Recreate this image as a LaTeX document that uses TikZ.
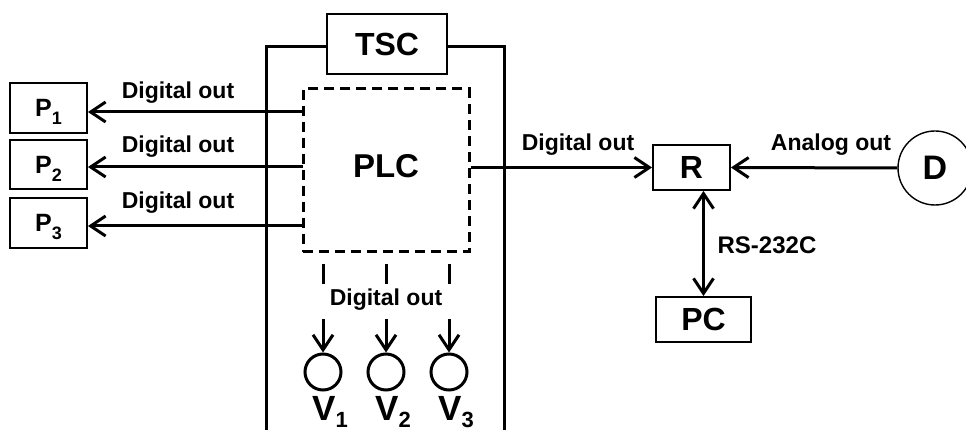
\documentclass[tikz,border=0pt]{standalone}
\usepackage{fontspec}
\setmainfont{Liberation Sans}
\usetikzlibrary{arrows.meta,calc}
\newcommand\psub[1]{\raisebox{-8pt}[0pt][0pt]{\fontsize{18}{18}\selectfont #1}}
\newcommand\vsub[1]{\raisebox{-7pt}[0pt][0pt]{\fontsize{22}{22}\selectfont #1}}
\begin{document}
\begin{tikzpicture}[x=1pt,y=-1pt,
  font=\bfseries,
  box/.style={draw, line width=1.8pt, inner sep=0pt, text depth=0pt},
  wire/.style={line width=3pt},
  tip/.style={},
  arr/.style={line width=3pt, -{Straight Barb[length=15pt,width=20pt]}},
  darr/.style={line width=3pt, {Straight Barb[length=15pt,width=20pt]}-{Straight Barb[length=15pt,width=20pt]}},
  lbl/.style={font=\fontsize{23}{23}\selectfont\bfseries, inner sep=0pt},
  big/.style={font=\fontsize{32}{32}\selectfont\bfseries},
  pbox/.style={box, minimum width=77pt, font=\fontsize{25}{25}\selectfont\bfseries},
  valve/.style={draw, circle, line width=3pt, minimum size=36pt, inner sep=0pt}]
\useasboundingbox (0,0) rectangle (966,430);
% TSC enclosure
\node[box, big, minimum width=120pt, minimum height=60pt] (TSC) at (387,44) {TSC};
\draw[wire] (266,432) |- ([yshift=-3pt]TSC.west);
\draw[wire] ([yshift=-3pt]TSC.east) -| (504,432);
% PLC
\node[draw, dash pattern=on 10pt off 6pt, line width=3pt, minimum width=166pt, minimum height=163pt] (PLC) at (386,170.5) {};
\node[font=\fontsize{33}{33}\selectfont\bfseries] (PLCt) at (386,166) {PLC};
% P boxes
\node[pbox, minimum height=50pt] (P1) at (48.5,108) {P\psub{1}};
\node[pbox, minimum height=49pt] (P2) at (48.5,164.5) {P\psub{2}};
\node[pbox, minimum height=50pt] (P3) at (48.5,223) {P\psub{3}};
\coordinate (a1) at (303,112);
\coordinate (a2) at (303,167);
\coordinate (a3) at (303,226);
\draw[arr] (a1) -- (P1.east |- a1);
\draw[arr] (a2) -- (P2.east |- a2);
\draw[arr] (a3) -- (P3.east |- a3);
\node[lbl] (l1) at (178,93) {Digital out};
\node[lbl] (l2) at (178,147) {Digital out};
\node[lbl] (l3) at (178,203) {Digital out};
% R, D, PC
\node[box, big, minimum width=77pt, minimum height=45pt] (R) at (691.5,167.5) {R};
\node[draw, circle, line width=1.4pt, minimum size=74pt, inner sep=0pt, font=\fontsize{34}{34}\selectfont\bfseries] (D) at (935,168) {D};
\node[box, big, minimum width=95pt, minimum height=45pt] (PC) at (703.5,319.5) {PC};
\draw[arr] (PLC.east |- R.west) -- (R.west);
\draw[arr] (D.west) -- (R.east);
\draw[darr] (PC.north |- R.south) -- (PC.north);
\node[lbl] (l4) at (578,145) {Digital out};
\node[lbl] (l5) at (831,145) {Analog out};
\node[lbl, font=\fontsize{24}{24}\selectfont\bfseries] (rs) at (767,245) {RS-232C};
% valves
\node[lbl] (l6) at (386,300) {Digital out};
\foreach \i/\x in {1/323,2/386,3/449}{
  \node[valve] (V\i) at (\x,372) {};
  \node[anchor=base, inner sep=0pt, font=\fontsize{35}{35}\selectfont\bfseries] (V\i l) at (\x+7,420) {V\vsub{\i}};
  \draw[line width=3pt, dash pattern=on 0pt off 11pt on 20pt off 100pt] (PLC.south -| V\i) -- (l6.north -| V\i);
  \draw[arr] ([yshift=-8pt]l6.south -| V\i) -- (V\i.north);
}
\end{tikzpicture}
\end{document}
